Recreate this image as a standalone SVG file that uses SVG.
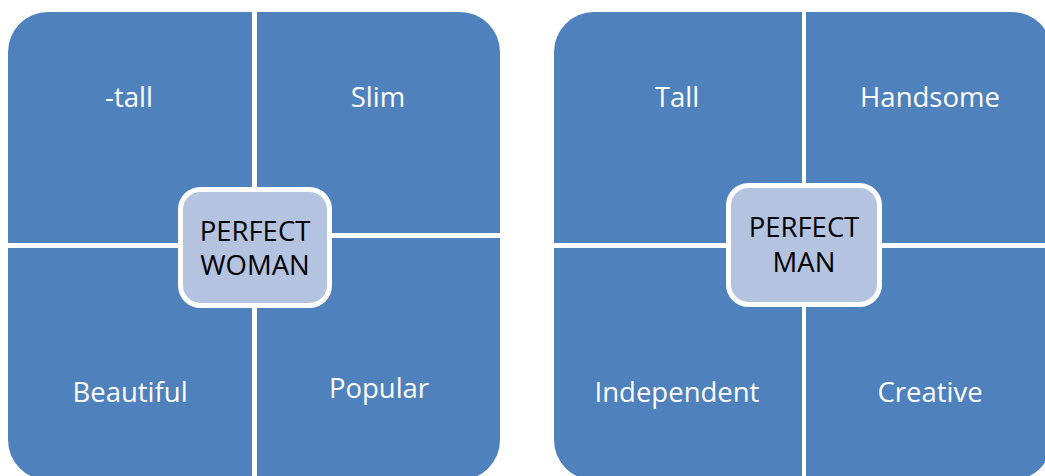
<svg xmlns="http://www.w3.org/2000/svg" width="1045" height="476" viewBox="0 0 1045 476">
<style>
.q{fill:#4F81BD;}
.lbl{font-family:"Open Sans","Liberation Sans",sans-serif;font-size:27.5px;fill:#FFFFFF;text-anchor:middle;}
.ctr{fill:#B4C3DF;stroke:#FFFFFF;stroke-width:5;}
.ctxt{font-family:"Open Sans","Liberation Sans",sans-serif;font-size:27.5px;fill:#000000;text-anchor:middle;}
</style>
<rect width="1045" height="476" fill="#FFFFFF"/>
<g id="woman">
  <g id="w-tall"><path class="q" d="M8,52 A40,40 0 0 1 48,12 H252 V243 H8 Z"/><text class="lbl" x="129" y="107">-tall</text></g>
  <g id="w-slim"><path class="q" d="M257,12 H460 A40,40 0 0 1 500,52 V233 H257 Z"/><text class="lbl" x="378" y="107">Slim</text></g>
  <g id="w-beautiful"><path class="q" d="M8,248 H252 V480 H48 A40,40 0 0 1 8,440 Z"/><text class="lbl" x="130" y="402">Beautiful</text></g>
  <g id="w-popular"><path class="q" d="M257,238 H500 V440 A40,40 0 0 1 460,480 H257 Z"/><text class="lbl" x="379" y="398">Popular</text></g>
  <g id="w-center"><rect class="ctr" x="180.5" y="189.5" width="149" height="116" rx="20"/><text class="ctxt" x="255" y="241">PERFECT</text><text class="ctxt" x="255" y="275">WOMAN</text></g>
</g>
<g id="man">
  <g id="m-tall"><path class="q" d="M554,52 A40,40 0 0 1 594,12 H802 V243 H554 Z"/><text class="lbl" x="677" y="107">Tall</text></g>
  <g id="m-handsome"><path class="q" d="M806,12 H1012 A40,40 0 0 1 1052,52 V243 H806 Z"/><text class="lbl" x="930" y="107">Handsome</text></g>
  <g id="m-independent"><path class="q" d="M554,248 H802 V480 H594 A40,40 0 0 1 554,440 Z"/><text class="lbl" x="677" y="402">Independent</text></g>
  <g id="m-creative"><path class="q" d="M806,248 H1052 V440 A40,40 0 0 1 1012,480 H806 Z"/><text class="lbl" x="930" y="402">Creative</text></g>
  <g id="m-center"><rect class="ctr" x="728.5" y="185.5" width="151" height="119" rx="20"/><text class="ctxt" x="804" y="237">PERFECT</text><text class="ctxt" x="804" y="272">MAN</text></g>
</g>
<g id="connectors"></g>
</svg>
